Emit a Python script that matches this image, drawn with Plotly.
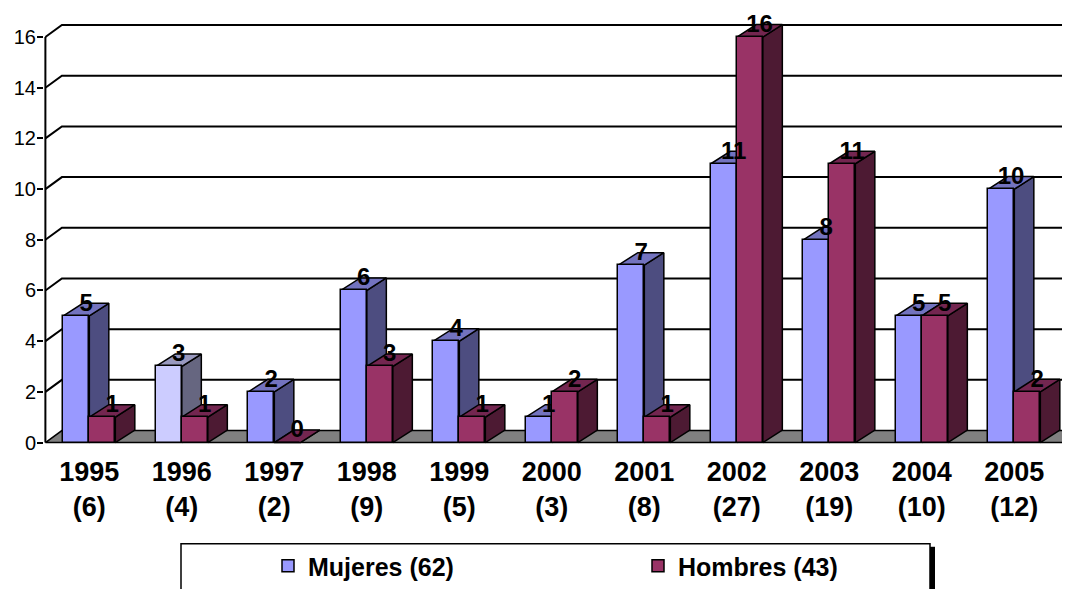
import plotly.graph_objects as go

# ---------------- data ----------------
years = ["1995", "1996", "1997", "1998", "1999", "2000", "2001", "2002", "2003", "2004", "2005"]
totals = [6, 4, 2, 9, 5, 3, 8, 27, 19, 10, 12]
mujeres = [5, 3, 2, 6, 4, 1, 7, 11, 8, 5, 10]
hombres = [1, 1, 0, 3, 1, 2, 1, 16, 11, 5, 2]
series_names = ["Mujeres (62)", "Hombres (43)"]
y_ticks = [0, 2, 4, 6, 8, 10, 12, 14, 16]

# ---------------- style / geometry ----------------
FONT = "Liberation Sans, Arial, sans-serif"
OFF = 8                                  # page body margin
W, H = 1070 - OFF, 589 - OFF
ML, MR, MT, MB = 44 - OFF, 0, 0, 138
PW, PH = W - ML - MR, H - MT - MB
XSCALE, YSCALE = 92.5, 25.4             # px per data unit
X0 = -0.49
X1 = X0 + PW / XSCALE
Y1 = (443.5 - OFF - MT) / YSCALE
Y0 = Y1 - PH / YSCALE

BW = 26 / XSCALE                        # bar width
BDX, BDY = 19.5 / XSCALE, 12.5 / YSCALE # bar depth
WDX, WDY = 16.5 / XSCALE, 12 / YSCALE   # wall depth
AX = -0.475                             # y-axis line position
FLOOR_R = X1 + 0.5

M_FRONT, M_SIDE, M_TOP = "#9999FF", "#4D4D80", "#7373BF"
M_FRONT_ALT, M_SIDE_ALT, M_TOP_ALT = "#CCCCFF", "#666680", "#9999BF"
H_FRONT, H_SIDE, H_TOP = "#993366", "#4D1A33", "#732650"

fig = go.Figure()

# floor
fig.add_trace(go.Scatter(
    x=[AX, FLOOR_R, FLOOR_R + WDX, AX + WDX, AX],
    y=[0, 0, WDY, WDY, 0],
    fill="toself", fillcolor="#808080", mode="lines",
    line=dict(color="black", width=1.5), hoverinfo="skip",
    showlegend=False, zorder=0))

# back-wall gridlines with diagonal connectors
gx, gy = [], []
for v in y_ticks[1:]:
    gx += [AX, AX + WDX, X1 + 1, None]
    gy += [v, v + WDY, v + WDY, None]
fig.add_trace(go.Scatter(x=gx, y=gy, mode="lines",
                         line=dict(color="black", width=2),
                         hoverinfo="skip", showlegend=False, zorder=0))

# y axis line
fig.add_trace(go.Scatter(x=[AX, AX], y=[0, y_ticks[-1]], mode="lines",
                         line=dict(color="black", width=2),
                         hoverinfo="skip", showlegend=False, zorder=0))


def add_box_faces(left, val, side_col, top_col, z):
    right = left + BW
    fig.add_trace(go.Scatter(
        x=[right, right + BDX, right + BDX, right, right],
        y=[0, BDY, val + BDY, val, 0],
        fill="toself", fillcolor=side_col, mode="lines",
        line=dict(color="black", width=1.5), hoverinfo="skip",
        showlegend=False, zorder=z))
    fig.add_trace(go.Scatter(
        x=[left, right, right + BDX, left + BDX, left],
        y=[val, val, val + BDY, val + BDY, val],
        fill="toself", fillcolor=top_col, mode="lines",
        line=dict(color="black", width=1.5), hoverinfo="skip",
        showlegend=False, zorder=z))


idx = list(range(len(years)))
m_colors = [M_FRONT_ALT if y == "1996" else M_FRONT for y in years]

for i, v in enumerate(mujeres):
    alt = years[i] == "1996"
    add_box_faces(i - BW, v, M_SIDE_ALT if alt else M_SIDE,
                  M_TOP_ALT if alt else M_TOP, 1)

fig.add_trace(go.Bar(
    x=idx, y=mujeres, width=BW, offset=-BW, name=series_names[0],
    marker=dict(color=m_colors, line=dict(color="black", width=1.5)),
    zorder=2))

for i, v in enumerate(hombres):
    add_box_faces(i, v, H_SIDE, H_TOP, 3)

fig.add_trace(go.Bar(
    x=idx, y=hombres, width=BW, offset=0, name=series_names[1],
    marker=dict(color=H_FRONT, line=dict(color="black", width=1.5)),
    zorder=4))

# data labels
lab_font = dict(family=FONT, size=24, color="black", weight="bold")
fig.add_trace(go.Scatter(
    x=[i - BW / 2 + BDX / 2 for i in idx], y=[v + BDY * 0.9 for v in mujeres],
    mode="text", text=[str(v) for v in mujeres], textfont=lab_font,
    textposition="middle center", hoverinfo="skip", showlegend=False,
    cliponaxis=False, zorder=10))
fig.add_trace(go.Scatter(
    x=[i + BW / 2 + BDX / 2 for i in idx], y=[v + BDY * 0.9 for v in hombres],
    mode="text", text=[str(v) for v in hombres], textfont=lab_font,
    textposition="middle center", hoverinfo="skip", showlegend=False,
    cliponaxis=False, zorder=10))


# legend box (frame + shadow), positions given in page pixels
def px_x(p):
    return (p - OFF - ML) / PW


def px_y(p):
    return (MT + PH - (p - OFF)) / PH


fig.add_shape(type="rect", xref="paper", yref="paper",
              x0=px_x(930), x1=px_x(935), y0=px_y(548), y1=px_y(600),
              fillcolor="black", line=dict(width=0), layer="above")
fig.add_shape(type="rect", xref="paper", yref="paper",
              x0=px_x(181), x1=px_x(930), y0=px_y(545), y1=px_y(600),
              fillcolor="rgba(0,0,0,0)", line=dict(color="black", width=1.5),
              layer="above")

fig.update_layout(
    width=W, height=H,
    margin=dict(l=ML, r=MR, t=MT, b=MB),
    paper_bgcolor="white", plot_bgcolor="white",
    font=dict(family=FONT, color="black"),
    barmode="overlay",
    bargap=0,
    xaxis=dict(range=[X0, X1], tickmode="array", tickvals=idx,
               ticktext=[f"{y}<br>({t})" for y, t in zip(years, totals)],
               tickfont=dict(family=FONT, size=27, color="black", weight="bold"),
               showgrid=False, zeroline=False, showline=False, ticks="",
               ticklabelstandoff=3, fixedrange=True),
    yaxis=dict(range=[Y0, Y1], tickmode="array", tickvals=y_ticks,
               tickfont=dict(family=FONT, size=20, color="black"),
               showgrid=False, zeroline=False, showline=False,
               ticks="outside", ticklen=6, tickwidth=2, tickcolor="black",
               ticklabelstandoff=-3, fixedrange=True),
    legend=dict(orientation="h", x=px_x(268), xanchor="left",
                y=px_y(567), yanchor="middle",
                bgcolor="rgba(0,0,0,0)", borderwidth=0,
                entrywidthmode="pixels", entrywidth=325,
                font=dict(family=FONT, size=25, color="black", weight="bold"),
                traceorder="normal"),
    showlegend=True,
)

fig.write_html("out.html")
